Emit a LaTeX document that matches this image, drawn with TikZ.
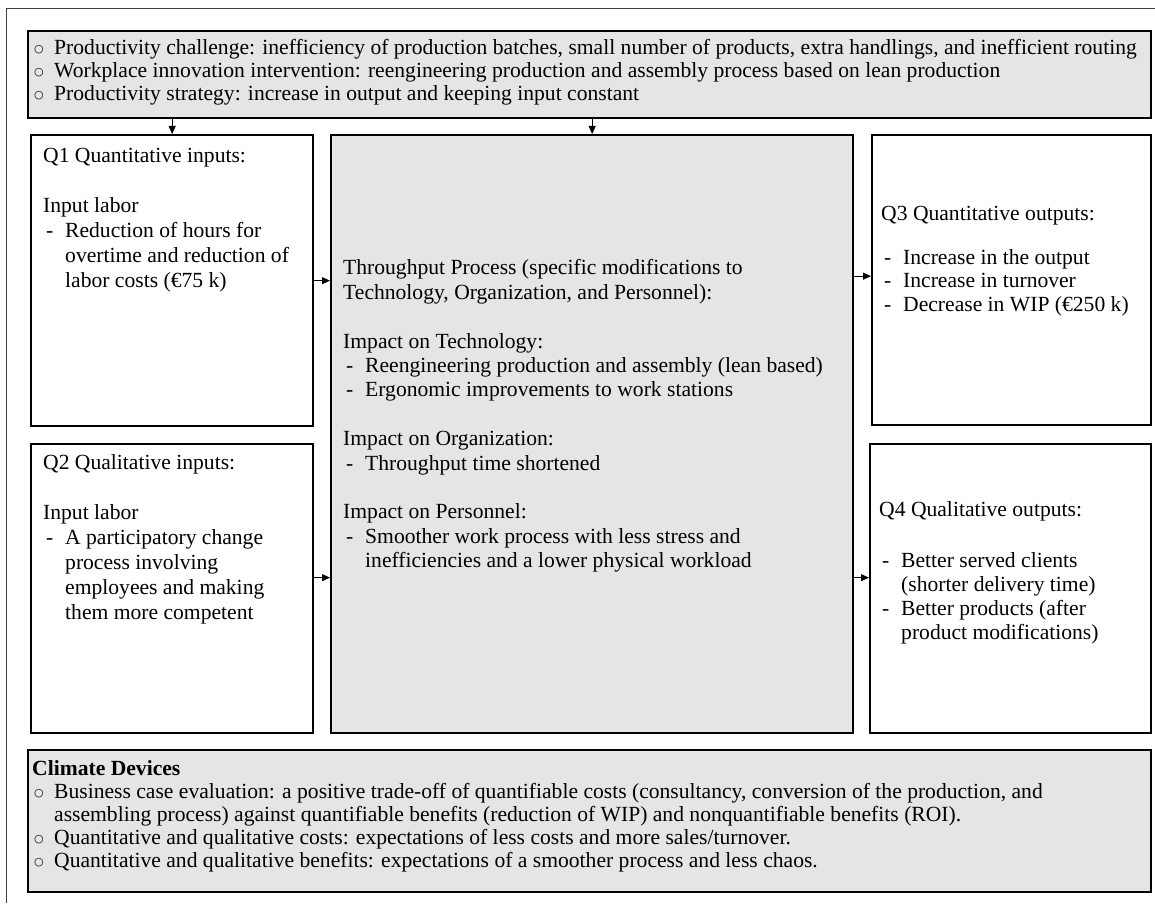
\documentclass[tikz,border=0pt]{standalone}
\usepackage{fontspec}
\setmainfont{Liberation Serif}
\newfontfamily\bulfont{DejaVu Sans}
\usetikzlibrary{arrows.meta}
\definecolor{boxfill}{RGB}{229,229,229}
\newcommand{\obul}{\makebox[22pt][l]{\hspace{2pt}\raisebox{1.6pt}{\bulfont\fontsize{11}{12}\selectfont ○}}}
\newcommand{\dsh}{\makebox[22pt][l]{\hspace{3pt}-}}
\newcommand{\ind}{\hspace*{22pt}}
\begin{document}
\begin{tikzpicture}[x=1pt,y=1pt,
  box/.style={draw=black, line width=2.3pt, inner sep=0pt, outer sep=1.15pt, anchor=north west},
  gbox/.style={box, fill=boxfill},
  txt/.style={inner sep=0pt, anchor=north west, align=left, font=\fontsize{21.6}{24.4}\selectfont},
  arr/.style={-{Triangle[length=8pt,width=7pt]}, line width=0.8pt}]
\useasboundingbox (0,0) rectangle (1155,903);
\draw[line width=1pt, draw=black!75] (6,0) -- (6,894) -- (1155,894);
% boxes
\node[gbox, minimum width=1123pt, minimum height=87pt] (top) at (27,873) {};
\node[box, minimum width=282pt, minimum height=291pt] (q1) at (30,769) {};
\node[gbox, minimum width=522pt, minimum height=598pt] (mid) at (330,769) {};
\node[box, minimum width=279pt, minimum height=290pt] (q3) at (871,769) {};
\node[box, minimum width=282pt, minimum height=289pt] (q2) at (30,460) {};
\node[box, minimum width=281pt, minimum height=289pt] (q4) at (869,460) {};
\node[gbox, minimum width=1123pt, minimum height=142pt] (bot) at (27,154) {};
% connectors
\draw[arr] (top.south -| q1.north) -- (q1.north);
\draw[arr] (top.south -| mid.north) -- (mid.north);
\draw[arr] (q1.east) -- (q1.east -| mid.west);
\draw[arr] ([yshift=11pt]q2.east) -- ([yshift=11pt]q2.east -| mid.west);
\draw[arr] ([yshift=4pt]q3.west -| mid.east) -- ([yshift=4pt]q3.west);
\draw[arr] ([yshift=11pt]q4.west -| mid.east) -- ([yshift=11pt]q4.west);
% texts
\node[txt, font=\fontsize{21.6}{23}\selectfont] (toptxt) at (32,865) {\strut\obul Productivity challenge: inefficiency of production batches, small number of products, extra handlings, and inefficient routing\\
\obul Workplace innovation intervention: reengineering production and assembly process based on lean production\\
\obul Productivity strategy: increase in output and keeping input constant};
\node[txt, font=\fontsize{21.6}{25}\selectfont] (q1txt) at (43,758.5) {\strut Q1 Quantitative inputs:\\[25pt]
Input labor\\
\dsh Reduction of hours for\\
\ind overtime and reduction of\\
\ind labor costs (€75 k)};
\node[txt, font=\fontsize{21.6}{25}\selectfont] (q2txt) at (43,451.5) {\strut Q2 Qualitative inputs:\\[25pt]
Input labor\\
\dsh A participatory change\\
\ind process involving\\
\ind employees and making\\
\ind them more competent};
\node[txt] (midtxt) at (343,645.3) {\strut Throughput Process (specific modifications to\\
Technology, Organization, and Personnel):\\[24.4pt]
Impact on Technology:\\
\dsh Reengineering production and assembly (lean based)\\
\dsh Ergonomic improvements to work stations\\[24.4pt]
Impact on Organization:\\
\dsh Throughput time shortened\\[24.4pt]
Impact on Personnel:\\
\dsh Smoother work process with less stress and\\
\ind inefficiencies and a lower physical workload};
\node[txt, font=\fontsize{21.6}{23.5}\selectfont] (q3txt) at (881,699) {\strut Q3 Quantitative outputs:\\[20pt]
\dsh Increase in the output\\
\dsh Increase in turnover\\
\dsh Decrease in WIP (€250 k)};
\node[txt, font=\fontsize{21.6}{24}\selectfont] (q4txt) at (879,403.3) {\strut Q4 Qualitative outputs:\\[27pt]
\dsh Better served clients\\
\ind (shorter delivery time)\\
\dsh Better products (after\\
\ind product modifications)};
\node[txt, font=\fontsize{21.6}{23}\selectfont] (bottxt) at (32,144) {\strut\textbf{Climate Devices}\\
\obul Business case evaluation: a positive trade-off of quantifiable costs (consultancy, conversion of the production, and\\
\ind assembling process) against quantifiable benefits (reduction of WIP) and nonquantifiable benefits (ROI).\\
\obul Quantitative and qualitative costs: expectations of less costs and more sales/turnover.\\
\obul Quantitative and qualitative benefits: expectations of a smoother process and less chaos.};
\end{tikzpicture}
\end{document}
